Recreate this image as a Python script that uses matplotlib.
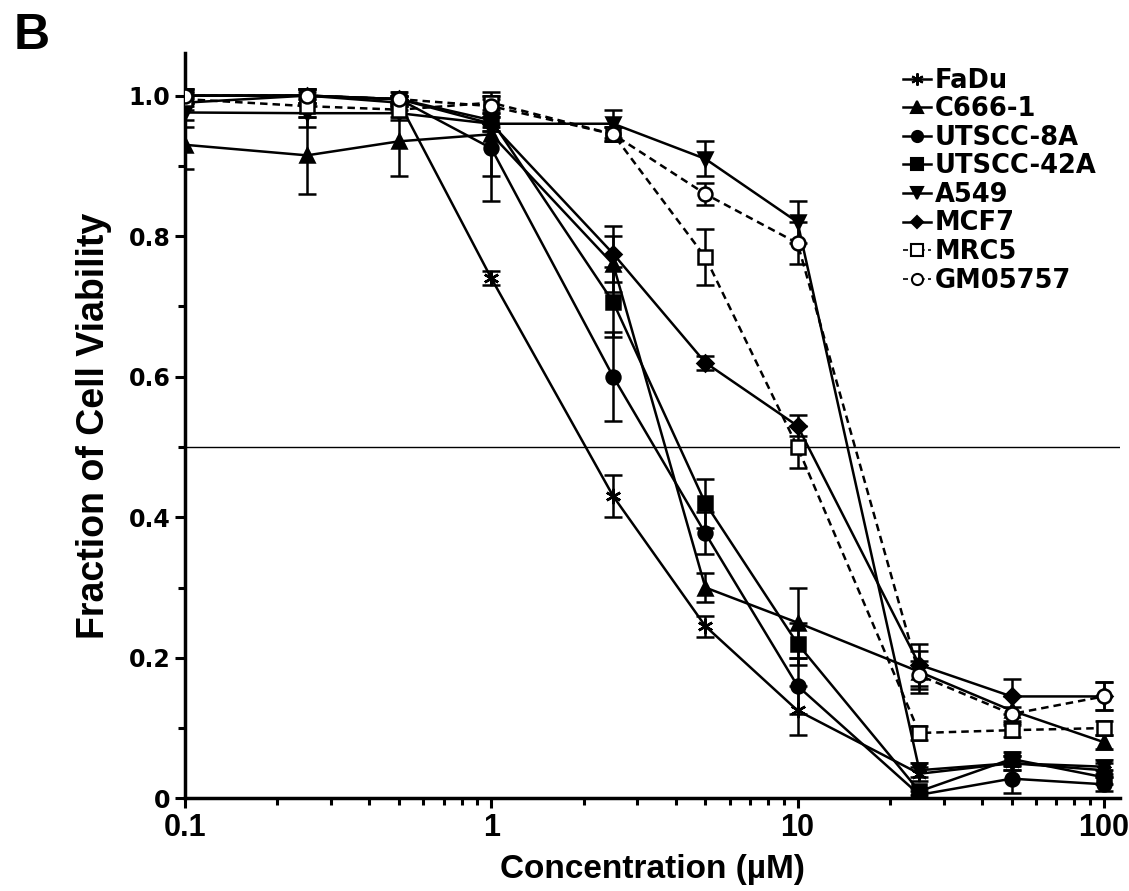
import numpy as np
import matplotlib; matplotlib.use('Agg')
import matplotlib.pyplot as plt
from matplotlib.lines import Line2D
from matplotlib.ticker import LogLocator, FixedLocator, NullFormatter

plt.rcParams['font.family'] = ['Liberation Sans', 'DejaVu Sans']

conc = [0.1, 0.25, 0.5, 1, 2.5, 5, 10, 25, 50, 100]

fadu      = [0.99, 1.00, 0.99, 0.74, 0.43, 0.245, 0.125, 0.035, 0.05, 0.04]
fadu_e    = [0.01, 0.01, 0.01, 0.01, 0.03, 0.015, 0.035, 0.01, 0.01, 0.01]
c666      = [0.93, 0.915, 0.935, 0.945, 0.76, 0.30, 0.25, 0.18, 0.125, 0.08]
c666_e    = [0.035, 0.055, 0.05, 0.06, 0.04, 0.02, 0.05, 0.03, 0.02, 0.01]
ut8a      = [1.00, 1.00, 0.995, 0.925, 0.60, 0.377, 0.16, 0.005, 0.028, 0.02]
ut8a_e    = [0.01, 0.01, 0.01, 0.075, 0.063, 0.03, 0.04, 0.005, 0.02, 0.01]
ut42a     = [1.00, 1.00, 0.995, 0.965, 0.706, 0.42, 0.22, 0.01, 0.056, 0.03]
ut42a_e   = [0.01, 0.01, 0.005, 0.01, 0.05, 0.035, 0.03, 0.005, 0.01, 0.01]
a549      = [0.976, 0.975, 0.975, 0.96, 0.96, 0.91, 0.82, 0.04, 0.05, 0.045]
a549_e    = [0.02, 0.02, 0.01, 0.01, 0.02, 0.025, 0.03, 0.01, 0.01, 0.01]
mcf7      = [1.00, 1.00, 0.995, 0.96, 0.775, 0.62, 0.53, 0.19, 0.145, 0.145]
mcf7_e    = [0.005, 0.005, 0.005, 0.01, 0.04, 0.01, 0.015, 0.03, 0.025, 0.02]
mrc5      = [0.995, 0.985, 0.98, 0.99, 0.945, 0.77, 0.50, 0.093, 0.097, 0.10]
mrc5_e    = [0.01, 0.015, 0.01, 0.01, 0.01, 0.04, 0.03, 0.01, 0.01, 0.01]
gm05757   = [1.00, 1.00, 0.995, 0.985, 0.945, 0.86, 0.79, 0.175, 0.12, 0.145]
gm05757_e = [0.01, 0.01, 0.005, 0.01, 0.01, 0.015, 0.03, 0.02, 0.01, 0.02]

dash = (0, (3, 2))
series = [
    ('FaDu', fadu, fadu_e, (6, 2, 0), '-', 'k', 11),
    ('C666-1', c666, c666_e, '^', '-', 'k', 10),
    ('UTSCC-8A', ut8a, ut8a_e, 'o', '-', 'k', 10),
    ('UTSCC-42A', ut42a, ut42a_e, 's', '-', 'k', 10),
    ('A549', a549, a549_e, 'v', '-', 'k', 10),
    ('MCF7', mcf7, mcf7_e, 'D', '-', 'k', 8),
    ('MRC5', mrc5, mrc5_e, 's', dash, 'white', 10),
    ('GM05757', gm05757, gm05757_e, 'o', dash, 'white', 10),
]

fig = plt.figure(figsize=(11.29, 8.91), dpi=100)
ax = fig.add_axes([0.164, 0.104, 0.828, 0.836])

ax.axhline(0.5, color='k', lw=1.0, zorder=1)

handles = []
for name, y, e, mk, ls, fc, ms in series:
    ax.errorbar(conc, y, yerr=e, color='k', marker=mk, ls=ls, mfc=fc, mec='k',
                mew=1.8, ms=ms, lw=1.8, elinewidth=1.8, capsize=6.5,
                capthick=1.8, zorder=3)
    # legend entry: marker on a short line, no error bar
    handles.append(Line2D([], [], color='k', marker=mk, ls=ls, mfc=fc, mec='k',
                          mew=1.5, ms=ms * 0.8, lw=1.8 if fc == 'k' else 1.2,
                          label=name))

ax.set_xscale('log')
ax.set_xlim(0.1, 113)
ax.set_ylim(0, 1.06)
ax.xaxis.set_major_locator(FixedLocator([0.1, 1, 10, 100]))
ax.set_xticklabels(['0.1', '1', '10', '100'])
ax.xaxis.set_minor_locator(LogLocator(base=10, subs=np.arange(2, 10)))
ax.xaxis.set_minor_formatter(NullFormatter())
ax.set_yticks([0, 0.2, 0.4, 0.6, 0.8, 1.0])
ax.set_yticklabels(['0', '0.2', '0.4', '0.6', '0.8', '1.0'])
ax.yaxis.set_minor_locator(FixedLocator([0.1, 0.3, 0.5, 0.7, 0.9]))

for s in ['top', 'right']:
    ax.spines[s].set_visible(False)
for s in ['left', 'bottom']:
    ax.spines[s].set_linewidth(2.5)
ax.tick_params(which='major', length=7, width=2.2)
ax.tick_params(which='minor', length=5, width=2.2)
for lab in ax.get_yticklabels():
    lab.set_fontweight('bold'); lab.set_fontsize(17); lab.set_family('DejaVu Sans')
for lab in ax.get_xticklabels():
    lab.set_fontweight('bold'); lab.set_fontsize(22)

ax.set_xlabel('Concentration (µM)', fontsize=24, fontweight='bold', labelpad=8)
ax.set_ylabel('Fraction of Cell Viability', fontsize=27, fontweight='bold',
              labelpad=12)

ax.legend(handles=handles, loc='upper right', bbox_to_anchor=(1.0, 1.012),
          frameon=False, handlelength=1.1, handletextpad=0.15,
          labelspacing=0.1, prop=dict(family='DejaVu Sans', size=18.5,
                                      weight='bold'))

fig.text(0.012, 0.985, 'B', fontsize=36, fontweight='bold', va='top', ha='left')

fig.savefig('out.png', dpi=100)
